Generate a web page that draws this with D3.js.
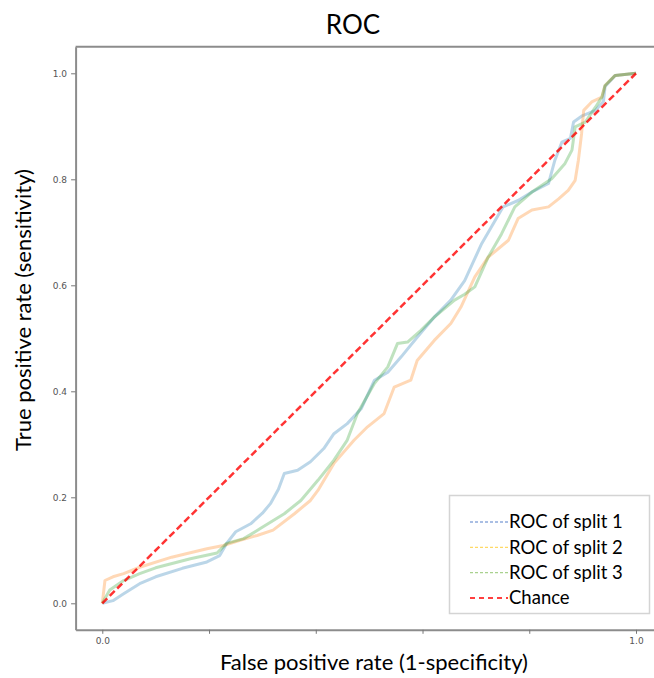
<!DOCTYPE html>
<html>
<head>
<meta charset="utf-8">
<script src="https://cdn.jsdelivr.net/npm/d3@7"></script>
<style>
  body { margin: 0; background: #fff; }
  svg { display: block; }
</style>
</head>
<body>
<div id="chart"></div>
<script>
// ROC curves for three splits
const fpr1 = [0, 0.02, 0.04, 0.07, 0.10, 0.15, 0.196, 0.22, 0.233, 0.25, 0.278, 0.30, 0.315, 0.33, 0.341, 0.366, 0.39, 0.415, 0.434, 0.459, 0.485, 0.51, 0.535, 0.56, 0.59, 0.622, 0.653, 0.679, 0.711, 0.729, 0.751, 0.779, 0.805, 0.836, 0.848, 0.861, 0.877, 0.883, 0.898, 0.924, 0.939, 0.942, 0.961, 1.0];
const tpr1 = [0, 0.005, 0.018, 0.037, 0.05, 0.066, 0.078, 0.09, 0.113, 0.135, 0.150, 0.17, 0.188, 0.215, 0.245, 0.251, 0.267, 0.292, 0.32, 0.339, 0.367, 0.421, 0.436, 0.465, 0.502, 0.540, 0.572, 0.609, 0.679, 0.71, 0.748, 0.760, 0.776, 0.792, 0.836, 0.870, 0.877, 0.908, 0.919, 0.93, 0.947, 0.975, 0.996, 1.0];

const fpr2 = [0, 0.005, 0.02, 0.04, 0.07, 0.13, 0.196, 0.227, 0.258, 0.29, 0.32, 0.36, 0.39, 0.404, 0.434, 0.472, 0.497, 0.528, 0.547, 0.578, 0.59, 0.622, 0.653, 0.672, 0.698, 0.723, 0.761, 0.779, 0.805, 0.836, 0.855, 0.873, 0.886, 0.892, 0.898, 0.902, 0.917, 0.936, 0.942, 0.961, 1.0];
const tpr2 = [0, 0.043, 0.05, 0.056, 0.068, 0.087, 0.103, 0.109, 0.119, 0.128, 0.138, 0.169, 0.194, 0.213, 0.264, 0.308, 0.333, 0.358, 0.408, 0.421, 0.458, 0.496, 0.528, 0.559, 0.616, 0.653, 0.685, 0.726, 0.742, 0.748, 0.763, 0.779, 0.798, 0.836, 0.886, 0.93, 0.946, 0.955, 0.977, 0.996, 1.0];

const fpr3 = [0, 0.014, 0.04, 0.07, 0.10, 0.165, 0.215, 0.233, 0.265, 0.296, 0.341, 0.372, 0.404, 0.434, 0.459, 0.478, 0.51, 0.535, 0.553, 0.572, 0.597, 0.622, 0.66, 0.679, 0.698, 0.723, 0.748, 0.773, 0.805, 0.842, 0.867, 0.88, 0.886, 0.905, 0.924, 0.936, 0.942, 0.961, 1.0];
const tpr3 = [0, 0.025, 0.043, 0.056, 0.067, 0.084, 0.095, 0.113, 0.122, 0.141, 0.169, 0.194, 0.232, 0.270, 0.308, 0.358, 0.415, 0.446, 0.49, 0.493, 0.515, 0.54, 0.572, 0.583, 0.597, 0.653, 0.697, 0.748, 0.776, 0.801, 0.83, 0.855, 0.899, 0.908, 0.936, 0.955, 0.977, 0.996, 1.0];

const chanceX = [0, 1];
const chanceY = [0, 1];

const tickValues = [0, 0.2, 0.4, 0.6, 0.8, 1.0];
const legendLabels = ["ROC of split 1", "ROC of split 2", "ROC of split 3", "Chance"];

const width = 654;
const height = 678;
const margin = { top: 46.8, right: -8.7, bottom: 48.2, left: 75.6 };

const svg = d3.select("#chart")
    .append("svg")
    .attr("width", width)
    .attr("height", height);

const x = d3.scaleLinear()
    .domain([-0.05, 1.05])
    .range([margin.left, width - margin.right]);

const y = d3.scaleLinear()
    .domain([-0.05, 1.05])
    .range([height - margin.bottom, margin.top]);

// frame
const frame = svg.append("g")
    .attr("stroke", "#8c8c8c")
    .attr("stroke-width", 2);
frame.append("line")
    .attr("x1", x.range()[0]).attr("x2", x.range()[1])
    .attr("y1", y.range()[1]).attr("y2", y.range()[1]);
frame.append("line")
    .attr("x1", x.range()[1]).attr("x2", x.range()[1])
    .attr("y1", y.range()[0]).attr("y2", y.range()[1]);

const xAxis = svg.append("g")
    .attr("transform", `translate(0,${y.range()[0]})`)
    .call(d3.axisBottom(x)
        .tickValues(tickValues)
        .tickSize(4)
        .tickSizeOuter(0)
        .tickPadding(4)
        .tickFormat(d => (d === 0 || d === 1) ? d3.format(".1f")(d) : ""));

const yAxis = svg.append("g")
    .attr("transform", `translate(${x.range()[0]},0)`)
    .call(d3.axisLeft(y)
        .tickValues(tickValues)
        .tickSize(4.5)
        .tickSizeOuter(0)
        .tickPadding(4)
        .tickFormat(d3.format(".1f")));

[xAxis, yAxis].forEach(g => {
    g.select(".domain").attr("stroke", "#8c8c8c").attr("stroke-width", 2);
    g.selectAll(".tick line").attr("stroke", "#777");
    g.selectAll(".tick text")
        .attr("fill", "#555")
        .style("font-family", "DejaVu Sans")
        .style("font-size", "9px");
});

// curves
const series = [
    { xs: fpr1, ys: tpr1, color: "#1f77b4" },
    { xs: fpr2, ys: tpr2, color: "#ff7f0e" },
    { xs: fpr3, ys: tpr3, color: "#2ca02c" }
];

const line = d3.line()
    .x(d => x(d[0]))
    .y(d => y(d[1]));

svg.selectAll(".roc")
    .data(series)
    .enter()
    .append("path")
    .attr("class", "roc")
    .attr("d", s => line(d3.zip(s.xs, s.ys)))
    .attr("fill", "none")
    .attr("stroke", s => s.color)
    .attr("stroke-width", 3)
    .attr("stroke-opacity", 0.3)
    .attr("stroke-linejoin", "round");

svg.append("path")
    .attr("d", line(d3.zip(chanceX, chanceY)))
    .attr("fill", "none")
    .attr("stroke", "#ff0000")
    .attr("stroke-opacity", 0.8)
    .attr("stroke-width", 2.5)
    .attr("stroke-dasharray", "7,3.5");

// legend
const legend = svg.append("g");
legend.append("rect")
    .attr("x", 449.5)
    .attr("y", 495.5)
    .attr("width", 200)
    .attr("height", 118)
    .attr("fill", "#fff")
    .attr("stroke", "#d4d4d4")
    .attr("stroke-width", 1.5);

const legendColors = ["#8eaadb", "#ffd966", "#a9d18e", "#ff0000"];
const legendDash = ["3,2", "3,2", "3,2", "5,4"];
const rowY = d3.scalePoint().domain(legendLabels).range([522, 598]);

legendLabels.forEach((lab, i) => {
    legend.append("line")
        .attr("x1", 470).attr("x2", 508)
        .attr("y1", rowY(lab)).attr("y2", rowY(lab))
        .attr("stroke", legendColors[i])
        .attr("stroke-width", 1.3)
        .attr("stroke-dasharray", legendDash[i]);
    legend.append("text")
        .attr("x", 509)
        .attr("y", rowY(lab))
        .attr("dy", "0.35em")
        .style("font-family", "Lato")
        .style("font-size", "18.5px")
        .attr("fill", "#000")
        .text(lab);
});

// titles
svg.append("text")
    .attr("x", 353)
    .attr("y", 34)
    .attr("text-anchor", "middle")
    .style("font-family", "Lato")
    .style("font-size", "26px")
    .text("ROC");

svg.append("text")
    .attr("x", 374)
    .attr("y", 670)
    .attr("text-anchor", "middle")
    .style("font-family", "Lato")
    .style("font-size", "22px")
    .text("False positive rate (1-specificity)");

svg.append("text")
    .attr("transform", "translate(31,310) rotate(-90)")
    .attr("text-anchor", "middle")
    .style("font-family", "Lato")
    .style("font-size", "22px")
    .text("True positive rate (sensitivity)");
</script>
</body>
</html>
